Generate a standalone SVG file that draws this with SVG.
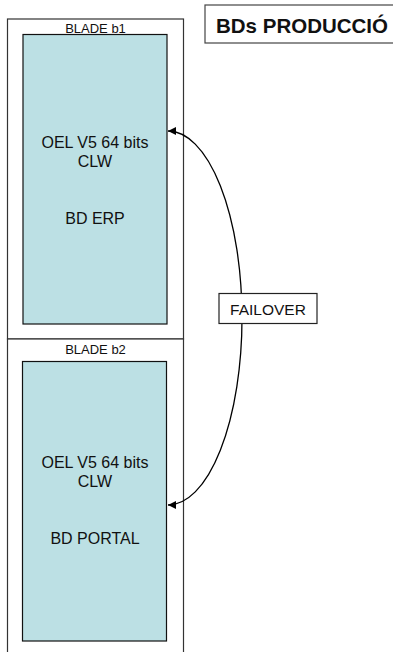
<svg xmlns="http://www.w3.org/2000/svg" width="393" height="652" viewBox="0 0 393 652">
<style>
.blade{fill:#ffffff;stroke:#333333;stroke-width:1.2}
.vm{fill:#bce0e4;stroke:#111111;stroke-width:1.2}
.lbl{font-family:"Liberation Sans",Arial,sans-serif;fill:#111111;text-anchor:middle}
.small{font-size:13px}
.big{font-size:16px}
</style>
<defs>
<marker id="ah" markerWidth="10" markerHeight="10" refX="8" refY="5" orient="auto" markerUnits="userSpaceOnUse">
<path d="M0,1 L8,5 L0,9 Z" fill="#000"/>
</marker>
</defs>
<rect width="393" height="652" fill="#ffffff"/>
<g id="blade-b1">
<rect class="blade" x="7.5" y="19" width="176" height="320"/>
<text class="lbl small" x="95.5" y="33">BLADE b1</text>
</g>
<g id="blade-b2">
<rect class="blade" x="7.5" y="339" width="176" height="320"/>
<text class="lbl small" x="95.5" y="354">BLADE b2</text>
</g>
<g id="vm-b1">
<rect class="vm" x="23" y="34.5" width="144" height="289.5"/>
<text class="lbl big" x="95" y="148">OEL V5 64 bits</text>
<text class="lbl big" x="95" y="167">CLW</text>
<text class="lbl big" x="95" y="224">BD ERP</text>
</g>
<g id="vm-b2">
<rect class="vm" x="22.5" y="361.5" width="144" height="279.5"/>
<text class="lbl big" x="95" y="468">OEL V5 64 bits</text>
<text class="lbl big" x="95" y="487">CLW</text>
<text class="lbl big" x="95" y="544">BD PORTAL</text>
</g>
<g id="connectors">
<path d="M168,505 A74,187 0 0 0 168,131" fill="none" stroke="#000" stroke-width="1.3" marker-end="url(#ah)" marker-start="url(#ahs)"/>
</g>
<defs>
<marker id="ahs" markerWidth="10" markerHeight="10" refX="0" refY="5" orient="auto" markerUnits="userSpaceOnUse">
<path d="M8,1 L0,5 L8,9 Z" fill="#000"/>
</marker>
</defs>
<g id="failover">
<rect x="219" y="293.5" width="98" height="30" fill="#ffffff" stroke="#222" stroke-width="1.2"/>
<text class="lbl" style="font-size:15.5px" x="268" y="315">FAILOVER</text>
</g>
<g id="title">
<rect x="205" y="5" width="200" height="38" fill="#ffffff" stroke="#444" stroke-width="1.2"/>
<text x="216" y="33" style="font-family:'Liberation Sans',Arial,sans-serif;font-weight:bold;font-size:20.5px;fill:#111">BDs PRODUCCIÓ</text>
</g>
</svg>
